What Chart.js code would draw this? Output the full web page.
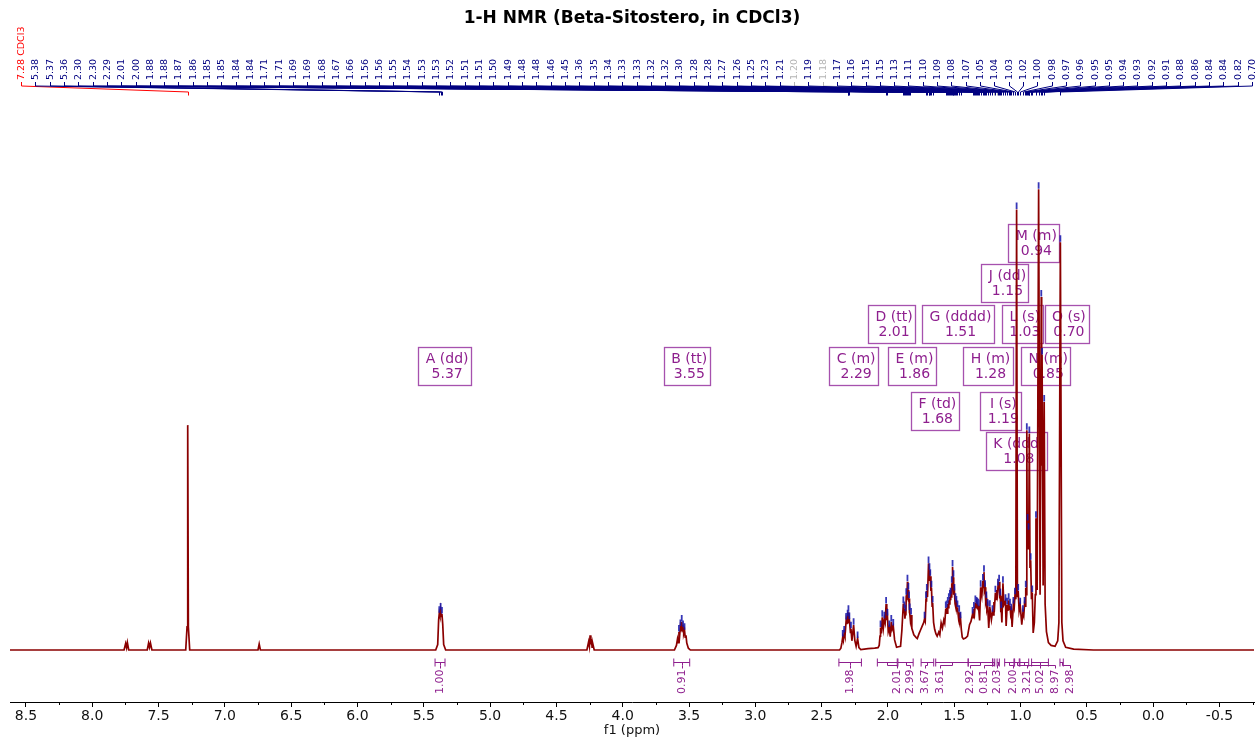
<!DOCTYPE html>
<html>
<head>
<meta charset="utf-8">
<script src="https://cdn.jsdelivr.net/npm/chart.js@4.4.1/dist/chart.umd.min.js"></script>
<style>
  html, body { margin: 0; padding: 0; background: #fff; }
  #wrap { width: 1256px; height: 740px; }
</style>
</head>
<body>
<div id="wrap"><canvas id="nmr" width="1256" height="740"></canvas></div>
<script>
// ---- spectrum: [shift (ppm), relative intensity] ----
const spectrum = [
  [8.62,0],[7.76,0],[7.748,1.4],[7.741,0.5],[7.735,1.6],[7.725,0],
  [7.585,0],[7.575,1.5],[7.568,0.6],[7.561,1.5],[7.55,0],
  [7.295,0],[7.285,5],[7.28,48.8],[7.275,5],[7.265,0],
  [6.75,0],[6.741,1.3],[6.732,0],
  [5.41,0],[5.395,1.2],[5.388,6.5],[5.383,8.0],[5.378,7.4],[5.373,8.7],[5.368,7.3],[5.363,7.8],[5.357,5.5],[5.35,1.2],[5.335,0],
  [4.27,0],[4.257,1.8],[4.251,0.8],[4.246,3.2],[4.241,1.2],[4.236,2.4],[4.231,0.6],[4.226,1.4],[4.215,0],
  [3.61,0],[3.595,1.0],[3.587,2.4],[3.582,1.6],[3.576,3.9],[3.571,3.0],[3.565,5.1],[3.560,4.2],[3.555,6.1],[3.550,4.5],[3.545,4.9],[3.540,3.6],[3.534,4.3],[3.529,2.8],[3.523,3.2],[3.517,1.5],[3.505,0.4],[3.49,0],
  [2.365,0],[2.355,0.4],[2.347,1.6],[2.341,2.8],[2.336,2.1],[2.330,3.7],[2.324,3.0],[2.315,6.5],[2.309,5.6],[2.304,7.2],[2.301,6.6],[2.298,8.2],[2.294,5.8],[2.291,6.6],[2.283,3.8],[2.279,4.6],[2.272,2.0],[2.259,5.4],[2.250,2.1],[2.240,0.8],[2.229,2.5],[2.219,0.5],[2.205,0.1],
  [2.15,0.3],[2.10,0.4],[2.075,0.5],[2.066,1.0],[2.060,3.0],[2.056,4.9],[2.050,3.6],[2.043,7.1],[2.035,4.7],[2.027,6.8],[2.021,6.0],[2.014,10.0],[2.009,6.5],[2.004,7.4],[1.998,4.0],[1.990,4.9],[1.983,2.9],[1.975,6.1],[1.968,4.5],[1.960,5.2],[1.950,2.2],[1.935,0.6],[1.92,0.7],
  [1.905,0.8],[1.895,4.3],[1.884,10.1],[1.881,8.0],[1.876,9.0],[1.872,6.8],[1.868,8.3],[1.865,7.5],[1.862,11.9],[1.858,10.8],[1.853,14.8],[1.850,12.3],[1.846,13.0],[1.844,10.5],[1.841,11.2],[1.839,8.0],[1.836,8.6],[1.831,6.5],[1.826,7.6],[1.820,4.7],[1.805,3.3],[1.787,2.7],
  [1.779,2.5],[1.765,3.6],[1.755,4.3],[1.742,5.2],[1.730,6.0],[1.724,6.8],[1.719,6.3],[1.713,11.2],[1.711,10.5],[1.707,12.8],[1.702,11.5],[1.694,18.8],[1.690,16.5],[1.687,17.3],[1.684,15.0],[1.681,16.0],[1.676,12.8],[1.672,13.5],[1.667,9.5],[1.663,10.2],[1.656,6.0],[1.648,4.5],[1.638,3.5],
  [1.629,3.0],[1.617,3.9],[1.609,3.3],[1.599,5.9],[1.589,4.8],[1.579,6.5],[1.572,5.8],[1.564,9.0],[1.561,8.0],[1.557,9.2],[1.553,8.0],[1.549,10.0],[1.545,9.2],[1.541,10.8],[1.537,10.0],[1.533,11.5],[1.530,11.0],[1.527,12.0],[1.523,11.5],[1.519,14.5],[1.517,14.0],[1.513,18.0],[1.509,15.0],[1.506,15.8],[1.503,12.0],[1.499,12.8],[1.494,10.0],[1.491,10.8],[1.487,9.3],[1.484,10.2],[1.479,8.5],[1.476,9.2],[1.468,7.0],[1.463,8.2],[1.458,6.2],[1.453,6.8],[1.447,4.5],[1.440,2.8],[1.431,2.4],
  [1.415,2.6],[1.400,3.0],[1.385,5.5],[1.374,6.2],[1.362,7.8],[1.357,7.0],[1.352,8.9],[1.347,8.0],[1.341,10.3],[1.337,9.2],[1.333,10.0],[1.330,9.0],[1.327,9.8],[1.323,8.8],[1.320,9.6],[1.318,8.6],[1.316,9.4],[1.309,6.4],[1.301,13.6],[1.292,11.8],[1.284,15.0],[1.280,13.6],[1.276,16.9],[1.273,13.0],[1.268,13.6],[1.263,10.5],[1.258,11.2],[1.254,8.8],[1.248,9.5],[1.240,4.8],[1.232,9.3],[1.220,6.6],[1.212,8.2],[1.207,7.6],[1.201,10.4],[1.196,9.6],[1.190,12.4],[1.185,11.0],[1.180,13.0],[1.175,12.0],[1.170,13.9],[1.166,13.0],[1.162,14.8],[1.157,11.2],[1.153,11.8],[1.149,8.2],[1.146,9.0],[1.141,6.0],[1.133,14.5],[1.126,9.8],[1.114,10.6],[1.109,5.2],[1.101,9.8],[1.096,8.5],[1.090,10.8],[1.085,8.8],[1.080,9.6],[1.075,7.8],[1.070,8.5],[1.064,5.0],[1.054,10.0],[1.048,9.2],[1.042,12.0],[1.036,11.0],
  [1.030,95.6],[1.024,11.5],[1.018,12.8],[1.011,8.5],[1.003,9.8],[0.991,5.5],[0.982,8.2],[0.976,7.5],[0.970,10.0],[0.966,9.5],[0.961,13.5],[0.957,12.0],[0.953,47.7],[0.950,25],[0.947,28],[0.944,22],[0.940,26],[0.937,24],[0.934,47.0],[0.929,18],[0.924,19.5],[0.918,11],[0.912,12.5],[0.905,3.7],[0.896,6],[0.889,12],[0.884,28.6],[0.875,13],[0.864,100],[0.853,12],[0.844,76.6],[0.841,40],[0.838,64],[0.830,14],[0.822,53.8],[0.815,10],[0.805,4],[0.790,1.6],[0.770,1.0],[0.740,0.8],
  [0.72,2.0],[0.711,6],[0.700,88.5],[0.689,6],[0.68,2.0],[0.66,0.6],[0.60,0.2],[0.45,0],[-0.76,0]
];

// ---- peak list ----
const solvent = { shift: 7.28, name: 'CDCl3' };
const peakShifts = [
  5.383, 5.373, 5.363, 2.304, 2.298, 2.291, 2.014, 2.004,
  1.884, 1.876, 1.868, 1.862, 1.853, 1.846, 1.841, 1.836,
  1.713, 1.707, 1.694, 1.687, 1.681, 1.672, 1.663,
  1.564, 1.557, 1.549, 1.541, 1.533, 1.527, 1.519, 1.513, 1.506, 1.499, 1.491, 1.484, 1.476, 1.463, 1.453,
  1.362, 1.352, 1.341, 1.333, 1.327, 1.320, 1.316, 1.301, 1.284, 1.276, 1.268, 1.258, 1.248, 1.232, 1.212,
  1.201, 1.190, 1.180, 1.170, 1.162, 1.153, 1.146, 1.133, 1.114, 1.101, 1.090, 1.080, 1.070, 1.054, 1.042, 1.030, 1.018, 1.003,
  0.982, 0.970, 0.961, 0.953, 0.947, 0.940, 0.934, 0.924, 0.912,
  0.884, 0.864, 0.844, 0.838, 0.822, 0.700
];
const mutedPeaks = [1.201, 1.180];
const unlabelledPicks = [
  3.576, 3.565, 3.555, 3.545, 3.534,
  2.341, 2.330, 2.315, 2.279, 2.259, 2.229,
  2.056, 2.043, 2.027, 1.990, 1.975, 1.960, 1.826, 1.724
];

// ---- multiplets ----
const multipletLetters = ['A','B','C','D','E','F','G','H','I','J','K','L','M','N','O'];
const multipletKinds   = ['dd','tt','m','tt','m','td','dddd','m','s','dd','ddd','s','m','m','s'];
const multipletShifts  = [5.37, 3.55, 2.29, 2.01, 1.86, 1.68, 1.51, 1.28, 1.19, 1.15, 1.08, 1.03, 0.94, 0.85, 0.70];

// ---- integrals ----
const integralRanges = [
  [5.415,5.340],[3.615,3.495],[2.370,2.200],[2.080,1.930],[1.925,1.810],[1.750,1.655],[1.640,1.395],
  [1.395,1.210],[1.210,1.195],[1.177,1.160],[1.120,1.050],[1.045,1.010],[1.005,0.939],[0.917,0.790],[0.703,0.678]
];
const integralValues = [1.00, 0.91, 1.98, 2.01, 2.99, 3.67, 3.61, 2.92, 0.81, 2.03, 2.00, 3.21, 5.02, 8.97, 2.98];

// ---- axis ticks ----
const majorTicks = [8.5, 8.0, 7.5, 7.0, 6.5, 6.0, 5.5, 5.0, 4.5, 4.0, 3.5, 3.0, 2.5, 2.0, 1.5, 1.0, 0.5, 0.0, -0.5];
const minorTicks = [8.25, 7.75, 7.25, 6.75, 6.25, 5.75, 5.25, 4.75, 4.25, 3.75, 3.25, 2.75, 2.25, 1.75, 1.25, 0.75, 0.25, -0.25, -0.75];

// ---- annotation placement (ppm, intensity) ----
const boxAnchors = [
  [5.324,65.8],[3.498,65.8],[2.240,65.8],[1.954,74.8],[1.800,65.8],[1.627,56.0],[1.453,74.8],
  [1.227,65.8],[1.130,56.0],[1.099,83.7],[1.013,47.3],[0.968,74.8],[0.881,92.4],[0.791,65.8],[0.636,74.8]
];
const integralLabelAt = [5.3775, 3.555, 2.285, 1.935, 1.835, 1.724, 1.611, 1.378, 1.278, 1.175, 1.054, 0.951, 0.851, 0.738, 0.625];

const FONT = '"DejaVu Sans", Verdana, sans-serif';
const PURPLE = '#8e1f8e';

function intensityAt(ppm) {
  for (let i = 0; i < spectrum.length - 1; i++) {
    const [p0, v0] = spectrum[i], [p1, v1] = spectrum[i + 1];
    if (ppm <= p0 && ppm >= p1) {
      if (ppm === p0) return v0;
      return v0 + (v1 - v0) * (p0 - ppm) / (p0 - p1);
    }
  }
  return 0;
}

const nmrOverlay = {
  id: 'nmrOverlay',
  beforeDatasetsDraw(chart) {
    const { ctx, scales: { x, y } } = chart;
    ctx.save();
    ctx.font = '14px ' + FONT;
    multipletLetters.forEach((letter, i) => {
      const [ap, ai] = boxAnchors[i];
      const cx = x.getPixelForValue(ap);
      const top = Math.round(y.getPixelForValue(ai)) + 0.5;
      const l1 = letter + ' (' + multipletKinds[i] + ')';
      const l2 = multipletShifts[i].toFixed(2);
      const tw = Math.max(ctx.measureText(l1).width, ctx.measureText(l2).width);
      const left = Math.round(cx - tw / 2 - 7.5) + 0.5;
      const w = Math.round(tw + 10);
      ctx.strokeStyle = 'rgba(150,50,160,0.85)';
      ctx.lineWidth = 1.3;
      ctx.strokeRect(left, top, w, 38);
      ctx.fillStyle = PURPLE;
      ctx.textAlign = 'center';
      ctx.textBaseline = 'middle';
      ctx.fillText(l1, cx, top + 11.5);
      ctx.fillText(l2, cx, top + 26.5);
    });
    ctx.restore();
  },
  afterDatasetsDraw(chart) {
    const { ctx, chartArea, scales: { x, y } } = chart;
    ctx.save();

    // picked-peak markers
    ctx.strokeStyle = 'rgba(20,20,170,0.85)';
    ctx.lineWidth = 1.8;
    ctx.beginPath();
    peakShifts.concat(unlabelledPicks).forEach(s => {
      if (mutedPeaks.includes(s)) return;
      const px = x.getPixelForValue(s);
      const py = y.getPixelForValue(intensityAt(s));
      ctx.moveTo(px, py - 0.5);
      ctx.lineTo(px, py - 7);
    });
    ctx.stroke();

    // integrals
    const by = Math.round(y.getPixelForValue(0) + 12) + 0.5;
    ctx.strokeStyle = PURPLE;
    ctx.fillStyle = PURPLE;
    ctx.lineWidth = 1;
    ctx.font = '11px ' + FONT;
    integralRanges.forEach(([a, b], i) => {
      const xa = x.getPixelForValue(a), xb = x.getPixelForValue(b);
      const cx = Math.round((xa + xb) / 2) + 0.5;
      const lx = Math.round(x.getPixelForValue(integralLabelAt[i])) + 0.5;
      ctx.beginPath();
      ctx.moveTo(xa, by); ctx.lineTo(xb, by);
      ctx.moveTo(xa, by - 4); ctx.lineTo(xa, by + 4);
      ctx.moveTo(xb, by - 4); ctx.lineTo(xb, by + 4);
      ctx.moveTo(cx, by); ctx.lineTo(cx, by + 3); ctx.lineTo(lx, by + 3); ctx.lineTo(lx, by + 6);
      ctx.stroke();
      ctx.save();
      ctx.translate(lx, by + 7);
      ctx.rotate(-Math.PI / 2);
      ctx.textAlign = 'right';
      ctx.textBaseline = 'middle';
      ctx.fillText(integralValues[i].toFixed(2), 0, 0);
      ctx.restore();
    });

    // peak labels along the top
    const labels = [{ shift: solvent.shift, text: solvent.shift.toFixed(2) + ' ' + solvent.name, color: '#ff0000', order: 1 }]
      .concat(peakShifts.map(s => ({
        shift: s, text: s.toFixed(2),
        color: mutedPeaks.includes(s) ? '#b4b4b4' : '#000080',
        order: mutedPeaks.includes(s) ? 0 : 2
      })));
    const lLeft = chartArea.left + 11, lRight = chartArea.right - 2;
    const step = (lRight - lLeft) / (labels.length - 1);
    const t = chartArea.top;
    ctx.font = '9.5px ' + FONT;
    ctx.lineWidth = 1;
    [0, 1, 2].forEach(pass => {
      labels.forEach((pk, i) => {
        if (pk.order !== pass) return;
        const lx = Math.round(lLeft + i * step) + 0.5;
        const px = Math.round(x.getPixelForValue(pk.shift)) + 0.5;
        ctx.strokeStyle = pk.color;
        ctx.beginPath();
        ctx.moveTo(lx, t - 18); ctx.lineTo(lx, t - 14);
        ctx.lineTo(px, t - 8); ctx.lineTo(px, t - 4.5);
        ctx.stroke();
        ctx.save();
        ctx.translate(lx, t - 20);
        ctx.rotate(-Math.PI / 2);
        ctx.fillStyle = pk.color;
        ctx.textAlign = 'left';
        ctx.textBaseline = 'middle';
        ctx.fillText(pk.text, 0, 0);
        ctx.restore();
      });
    });

    // minor axis ticks
    ctx.strokeStyle = '#000';
    ctx.lineWidth = 1;
    ctx.beginPath();
    minorTicks.forEach(v => {
      const px = Math.round(x.getPixelForValue(v)) + 0.5;
      ctx.moveTo(px, chartArea.bottom);
      ctx.lineTo(px, chartArea.bottom + 3);
    });
    ctx.stroke();
    ctx.restore();
  }
};

Chart.defaults.font.family = FONT;

new Chart(document.getElementById('nmr'), {
  type: 'line',
  data: {
    datasets: [{
      data: spectrum.map(([ppm, v]) => ({ x: ppm, y: v })),
      borderColor: '#8b0000',
      borderWidth: 1.7,
      pointRadius: 0,
      tension: 0,
      fill: false
    }]
  },
  options: {
    responsive: false,
    animation: false,
    devicePixelRatio: 1,
    layout: { padding: { left: 10, right: 2, top: 0, bottom: 0 } },
    plugins: {
      legend: { display: false },
      tooltip: { enabled: false },
      title: {
        display: true,
        text: '1-H NMR (Beta-Sitostero, in CDCl3)',
        color: '#000',
        font: { size: 17, weight: 'bold' },
        padding: { top: 8, bottom: 71.6 }
      }
    },
    scales: {
      x: {
        type: 'linear',
        reverse: true,
        min: -0.76,
        max: 8.62,
        afterBuildTicks: scale => { scale.ticks = majorTicks.map(v => ({ value: v })); },
        afterFit: scale => { scale.height = 38; },
        ticks: {
          autoSkip: false,
          maxRotation: 0,
          padding: 1,
          color: '#111',
          font: { size: 14 },
          callback: v => Number(v).toFixed(1)
        },
        grid: { drawOnChartArea: false, drawTicks: true, tickLength: 5, color: '#000' },
        border: { display: true, color: '#000', width: 1 },
        title: { display: true, text: 'f1 (ppm)', color: '#111', font: { size: 13 }, padding: { top: 0, bottom: 2 } }
      },
      y: { display: false, min: -11.28, max: 119.35 }
    }
  },
  plugins: [nmrOverlay]
});
</script>
</body>
</html>
